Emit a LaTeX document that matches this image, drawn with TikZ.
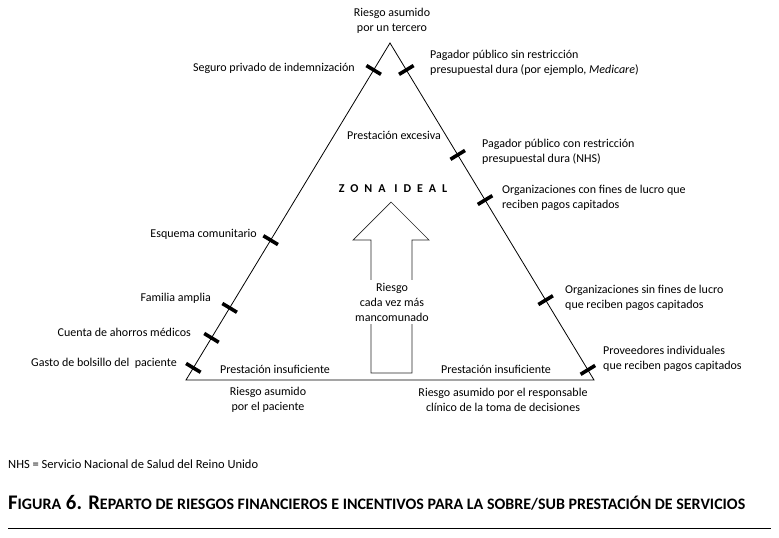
\documentclass[tikz,border=0pt]{standalone}
\usepackage{fontspec}
\setmainfont{Carlito}
\usepackage{graphicx}
\newcommand\fsc[1]{{\fontsize{10}{12}\selectfont #1}}
\begin{document}
\begin{tikzpicture}[x=1pt,y=-1pt,
  lbl/.style={font=\fontsize{12}{15.5}\selectfont, inner sep=0pt, align=left},
  lblc/.style={lbl, align=center},
  tickmark/.style={rectangle, fill=black, minimum width=3.6pt, minimum height=17pt, inner sep=0pt, sloped},
  edge/.style={line width=0.8pt},
  arrowline/.style={line width=0.7pt, draw=black!85}]
\useasboundingbox (0,0) rectangle (779,538);
% triangle
\coordinate (L) at (186,380);
\coordinate (T) at (390,43);
\coordinate (R) at (594,380);
\draw[edge] (L) -- (T) -- (R) -- cycle;
% ticks on the left side
\path (L) -- (T)
  node[tickmark,pos=0.920] (tl1) {}
  node[tickmark,pos=0.415] (tl2) {}
  node[tickmark,pos=0.214] (tl3) {}
  node[tickmark,pos=0.125] (tl4) {}
  node[tickmark,pos=0.036] (tl5) {};
% ticks on the right side
\path (T) -- (R)
  node[tickmark,pos=0.080] (tr1) {}
  node[tickmark,pos=0.332] (tr2) {}
  node[tickmark,pos=0.466] (tr3) {}
  node[tickmark,pos=0.763] (tr4) {}
  node[tickmark,pos=0.970] (tr5) {};
% corner labels
\node[lblc] (top) at (392,21) {Riesgo asumido\\por un tercero};
\node[lblc] (botl) at (268,400) {Riesgo asumido\\por el paciente};
\node[lblc] (botr) at (503,400) {Riesgo asumido por el responsable\\clínico de la toma de decisiones};
% left labels
\node[lbl,anchor=east] (seguro) at (355,68) {Seguro privado de indemnización};
\node[lbl,anchor=east] (esquema) at (257,234) {Esquema comunitario};
\node[lbl,anchor=east] (familia) at (211,298) {Familia amplia};
\node[lbl,anchor=east] (cuenta) at (191,332) {Cuenta de ahorros médicos};
\node[lbl,anchor=east] (gasto) at (177,363) {Gasto de bolsillo del\ \ paciente};
% right labels
\node[lbl,anchor=west] (pagsin) at (430,63) {Pagador público sin restricción\\presupuestal dura (por ejemplo, \textit{Medicare})};
\node[lbl,anchor=west] (pagcon) at (482,152) {Pagador público con restricción\\presupuestal dura (NHS)};
\node[lbl,anchor=west] (orgcon) at (502,198) {Organizaciones con fines de lucro que\\reciben pagos capitados};
\node[lbl,anchor=west] (orgsin) at (565,298) {Organizaciones sin fines de lucro\\que reciben pagos capitados};
\node[lbl,anchor=west] (prov) at (603,359) {Proveedores individuales\\que reciben pagos capitados};
% inner labels
\node[lblc] (exces) at (394,135) {Prestación excesiva};
\node[inner sep=0pt, font=\bfseries\fontsize{12}{14}\selectfont\addfontfeatures{LetterSpace=50}] (zona) at (393,189) {ZONA IDEAL};
\node[lblc] (insl) at (275,369) {Prestación insuficiente};
\node[lblc] (insr) at (496,369) {Prestación insuficiente};
% block arrow
\draw[arrowline] (371,240) -- (353,240) -- (391,202) -- (429,240) -- (412,240) -- (412,373) -- (371,373) -- cycle;
\node[lblc, fill=white, inner ysep=3pt, inner xsep=1pt, font=\fontsize{12}{15}\selectfont] (riesgo) at (392,302) {Riesgo\\cada vez más\\mancomunado};
% footer
\node[anchor=west, inner sep=0pt, font=\fontsize{11}{13}\selectfont] (nhs) at (8,464) {\resizebox{250pt}{!}{NHS = Servicio Nacional de Salud del Reino Unido}};
\node[anchor=west, inner sep=0pt, font=\bfseries\fontsize{13}{15}\selectfont] (title) at (8,503) {\resizebox{737pt}{!}{F\fsc{IGURA} 6. R\fsc{EPARTO DE RIESGOS FINANCIEROS E INCENTIVOS PARA LA SOBRE/SUB PRESTACIÓN DE SERVICIOS}}};
\coordinate (rulel) at (8,528);
\coordinate (ruler) at (771,528);
\draw[line width=0.8pt] (rulel) -- (ruler);
\end{tikzpicture}
\end{document}
